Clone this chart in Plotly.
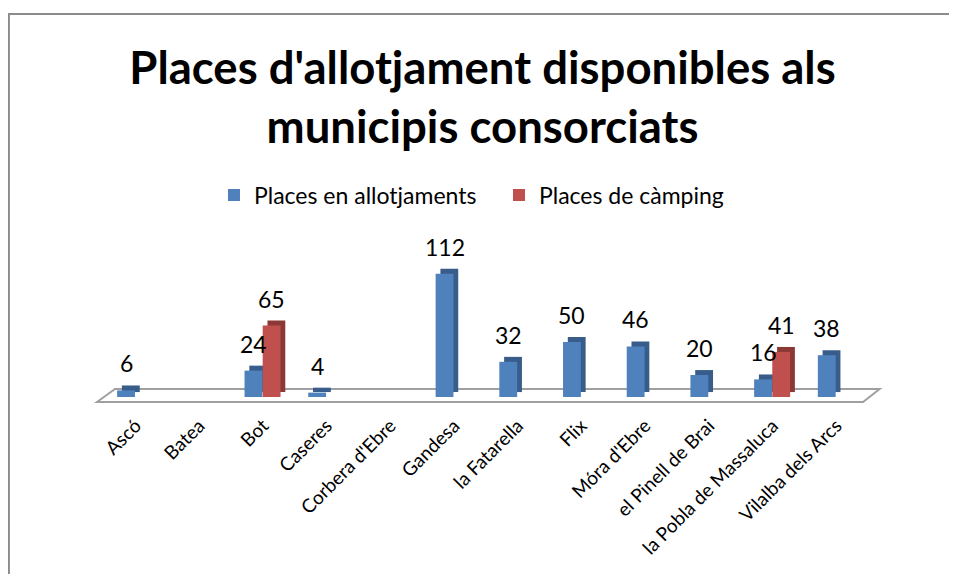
import plotly.graph_objects as go

municipis = ["Ascó", "Batea", "Bot", "Caseres", "Corbera d'Ebre", "Gandesa",
             "la Fatarella", "Flix", "Móra d'Ebre", "el Pinell de Brai",
             "la Pobla de Massaluca", "Vilalba dels Arcs"]
allotjaments = [6, None, 24, 4, None, 112, 32, 50, 46, 20, 16, 38]
camping = [None, None, 65, None, None, None, None, None, None, None, 41, None]

idx = list(range(len(municipis)))
FONT = "Lato"
W, H = 949, 566  # page body margin adds 8px around

fig = go.Figure()

# fake 3D: darker side face drawn behind the front face
def add_bar(values, name, front, side, offset):
    fig.add_trace(go.Bar(x=idx, y=values, base=4.5, offset=offset + 0.075, width=0.28,
                         marker=dict(color=side, line=dict(width=0)),
                         showlegend=False, hoverinfo="skip"))
    fig.add_trace(go.Bar(x=idx, y=values, offset=offset, width=0.28, name=name,
                         marker=dict(color=front, line=dict(width=0))))

add_bar(allotjaments, "Places en allotjaments", "#4F81BD", "#385D8A", -0.29)
add_bar(camping, "Places de càmping", "#C0504D", "#8C3836", -0.005)

# value labels
annots = []
for vals, dx in [(allotjaments, -0.15), (camping, 0.14)]:
    for i, v in zip(idx, vals):
        if v is None:
            continue
        annots.append(dict(x=i + dx, y=v, text=str(v), showarrow=False, yshift=27,
                           font=dict(size=23, color="black", family=FONT)))

fig.update_layout(
    width=W, height=H,
    barmode="overlay",
    margin=dict(l=72, r=60, t=222, b=H - 402, autoexpand=False),
    paper_bgcolor="white", plot_bgcolor="white",
    font=dict(family=FONT, color="black"),
    title=dict(text="Places d'allotjament disponibles als<br>municipis consorciats",
               x=0.5, xanchor="center", y=1 - 76 / H, yanchor="middle",
               font=dict(size=45.5, family=FONT, weight="bold")),
    legend=dict(orientation="h", x=0.164, xanchor="left", y=1 - 187 / H, yref="container",
                yanchor="middle", font=dict(size=23), traceorder="normal",
                entrywidth=240, entrywidthmode="pixels"),
    annotations=annots,
    shapes=[
        # floor of the 3D plot area
        dict(type="path", xref="x", yref="y", layer="below",
             path="M -0.606,-4.5 L -0.323,7.3 L 11.68,7.3 L 11.42,-4.5 Z",
             fillcolor="white", line=dict(color="#A0A0A0", width=2)),
        # chart frame (left and top edges, the rest is cut off)
        dict(type="path", xref="paper", yref="paper",
             path="M -0.087,-3 L -0.087,2.2 L 3,2.2",
             line=dict(color="#8C8C8C", width=2)),
    ],
)

fig.update_xaxes(range=[-0.873, 11.953], tickmode="array", tickvals=idx, ticktext=municipis,
                 tickangle=-45, tickfont=dict(size=19), showgrid=False, zeroline=False,
                 showline=False, ticks="", automargin=False)
fig.update_yaxes(range=[-11.8, 151.8], visible=False, showgrid=False, zeroline=False,
                 automargin=False)

fig.write_html("out.html")
